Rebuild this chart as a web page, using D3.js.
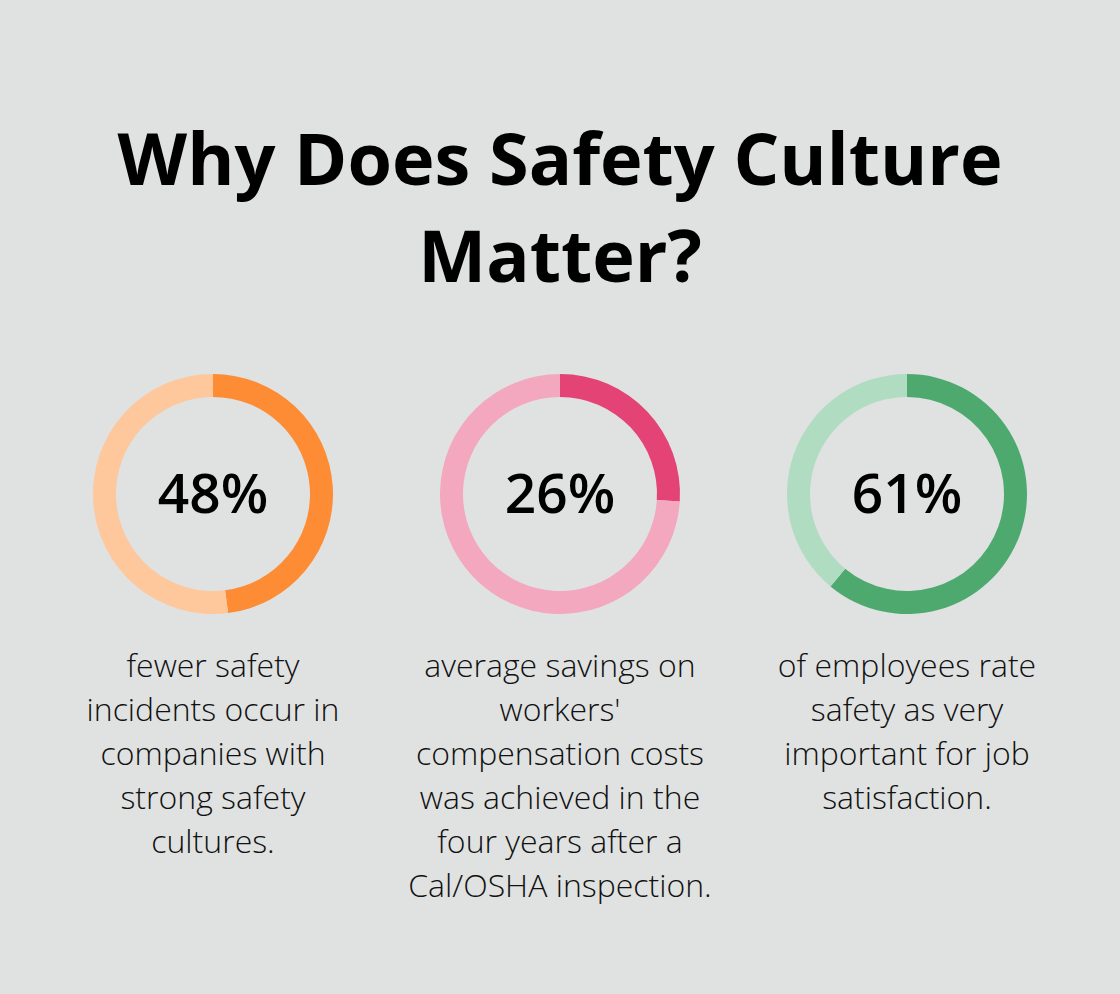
<!DOCTYPE html>
<html>
<head>
<meta charset="utf-8">
<script src="https://cdn.jsdelivr.net/npm/d3@7"></script>
<style>
  html, body { margin: 0; padding: 0; background: #e0e2e1; }
  svg { display: block; }
</style>
</head>
<body>
<svg id="chart" width="1120" height="994"></svg>
<script>
const titleLines = ["Why Does Safety Culture", "Matter?"];
const values = [48, 26, 61];
const labels = ["48%", "26%", "61%"];
const darkColors = ["#fd8c35", "#e34375", "#4ea96f"];
const lightColors = ["#fec79c", "#f3a8c0", "#b0dcc1"];
const descriptions = [
  ["fewer safety", "incidents occur in", "companies with", "strong safety", "cultures."],
  ["average savings on", "workers'", "compensation costs", "was achieved in the", "four years after a", "Cal/OSHA inspection."],
  ["of employees rate", "safety as very", "important for job", "satisfaction."]
];

const svg = d3.select("#chart");
const W = 1120;

svg.append("rect").attr("width", W).attr("height", 994).attr("fill", "#e0e2e1");

svg.append("g").selectAll("text").data(titleLines).join("text")
  .attr("x", W / 2)
  .attr("y", (d, i) => 185 + i * 97)
  .attr("text-anchor", "middle")
  .attr("font-family", "'Open Sans', sans-serif")
  .attr("font-weight", 700)
  .attr("font-size", 72)
  .attr("fill", "#000")
  .text(d => d);

const xScale = d3.scalePoint().domain(d3.range(values.length)).range([213, 907]);
const cy = 494;
const outerR = 120, innerR = 97;
const arc = d3.arc().innerRadius(innerR).outerRadius(outerR);
const pie = d3.pie().sort(null).value(d => d);

values.forEach((v, i) => {
  const g = svg.append("g").attr("transform", `translate(${xScale(i)},${cy})`);
  const slices = pie([v, 100 - v]);
  g.selectAll("path").data(slices).join("path")
    .attr("d", arc)
    .attr("fill", (d, j) => j === 0 ? darkColors[i] : lightColors[i]);
  g.append("text")
    .attr("text-anchor", "middle")
    .attr("y", 19)
    .attr("font-family", "'Open Sans', sans-serif")
    .attr("font-weight", 600)
    .attr("font-size", 55)
    .attr("fill", "#000")
    .text(labels[i]);
  svg.append("g").selectAll("text").data(descriptions[i]).join("text")
    .attr("x", xScale(i))
    .attr("y", (d, j) => 677 + j * 44)
    .attr("text-anchor", "middle")
    .attr("font-family", "'Open Sans', sans-serif")
    .attr("font-weight", 300)
    .attr("font-size", 32)
    .attr("fill", "#111")
    .text(d => d);
});
</script>
</body>
</html>
